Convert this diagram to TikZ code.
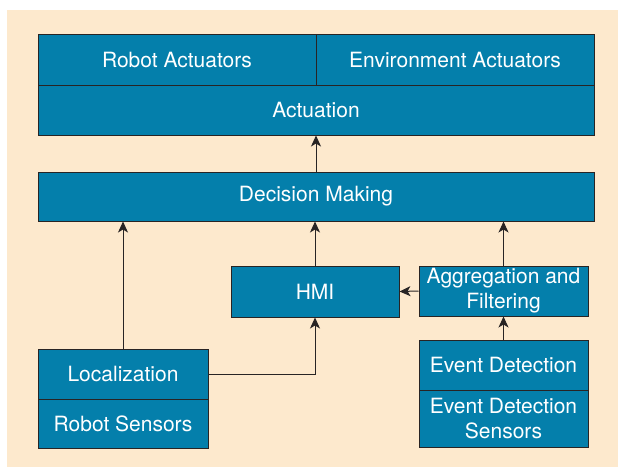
\documentclass[tikz,border=0pt]{standalone}
\usepackage{fontspec}
\setmainfont{TeX Gyre Heros}
\usepackage{tikz}
\usetikzlibrary{arrows.meta}

\definecolor{boxblue}{RGB}{4,127,171}
\definecolor{paper}{RGB}{253,233,205}
\definecolor{edge}{RGB}{40,36,36}

\tikzset{
  block/.style={draw=edge, fill=boxblue, text=white, inner sep=0pt, align=center,
                font=\fontsize{21}{25}\selectfont},
  link/.style={draw=edge, -{Stealth[length=11pt, width=10pt, inset=3pt]}}
}

\begin{document}
\begin{tikzpicture}[x=1pt, y=-1pt, line width=1pt]

% draw page and background
\useasboundingbox (0, 0) rectangle (618, 467);
\fill[paper] (7, 10) rectangle (618, 467);

% draw actuation layer
\node[block, minimum width=278pt, minimum height=51pt] (robact) at (177, 59.5) {Robot Actuators};
\node[block, minimum width=278pt, minimum height=51pt] (envact) at (455, 59.5) {Environment Actuators};
\node[block, minimum width=556pt, minimum height=50pt] (actuation) at (316, 110) {Actuation};

% draw decision layer
\node[block, minimum width=556pt, minimum height=49pt] (decision) at (316, 196.5) {Decision Making};

% draw middle boxes
\node[block, minimum width=168pt, minimum height=51pt] (hmi) at (315, 291.5) {HMI};
\node[block, minimum width=169pt, minimum height=50pt] (aggr) at (503.5, 291) {Aggregation and\\Filtering};

% draw sensor stacks
\node[block, minimum width=170pt, minimum height=50pt] (local) at (123, 374) {Localization};
\node[block, minimum width=170pt, minimum height=49pt] (robsens) at (123, 423.5) {Robot Sensors};
\node[block, minimum width=169pt, minimum height=50pt] (event) at (503.5, 365) {Event Detection};
\node[block, minimum width=169pt, minimum height=57pt] (evsens) at (503.5, 418.5) {Event Detection\\Sensors};

% draw arrows
\draw[link] (decision.north) -- (actuation.south);
\draw[link] (hmi.north) -- (hmi.north |- decision.south);
\draw[link] (aggr.north) -- (aggr.north |- decision.south);
\draw[link] (local.north) -- (local.north |- decision.south);
\draw[link] (local.east) -| (hmi.south);
\draw[link] (aggr.west) -- (hmi.east);
\draw[link] (event.north) -- (aggr.south);

\end{tikzpicture}
\end{document}
